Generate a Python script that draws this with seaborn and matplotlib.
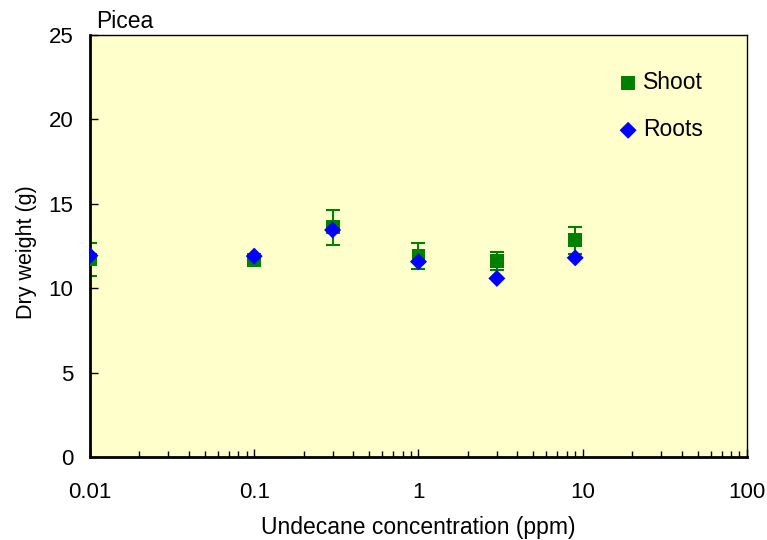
import matplotlib
matplotlib.use("Agg")
import matplotlib.pyplot as plt
import seaborn as sns
import numpy as np
import pandas as pd
from matplotlib.ticker import LogLocator, FixedLocator, NullFormatter

# Data
conc = [0.01, 0.1, 0.3, 1, 3, 9]
shoot = [11.7, 11.65, 13.6, 11.9, 11.6, 12.85]
shoot_err = [1.0, 0.15, 1.05, 0.75, 0.55, 0.8]
roots = [11.93, 11.9, 13.45, 11.57, 10.58, 11.8]

sns.set_theme(style="white")
plt.rcParams['font.family'] = ['Liberation Sans', 'DejaVu Sans']
plt.rcParams['text.color'] = 'black'
plt.rcParams['axes.labelcolor'] = 'black'

fig = plt.figure(figsize=(7.67, 5.40), dpi=100)
ax = fig.add_axes([0.1173, 0.1537, 0.8566, 0.7815])
ax.set_facecolor('#FFFFCC')

df = pd.DataFrame({'conc': conc * 2,
                   'weight': shoot + roots,
                   'part': ['Shoot'] * len(conc) + ['Roots'] * len(conc)})

ax.errorbar(conc, shoot, yerr=shoot_err, fmt='none', ecolor='#008000',
            elinewidth=1.5, capsize=5, capthick=1.5, zorder=2)
sns.scatterplot(data=df[df.part == 'Shoot'], x='conc', y='weight', ax=ax,
                marker='s', color='#008000', s=100, edgecolor='none',
                label='Shoot', zorder=3)
sns.scatterplot(data=df[df.part == 'Roots'], x='conc', y='weight', ax=ax,
                marker='D', color='#0000FF', s=75, edgecolor='none',
                label='Roots', zorder=4)

ax.set_xscale('log')
ax.set_xlim(0.01, 100)
ax.set_ylim(0, 25)
ax.set_yticks([0, 5, 10, 15, 20, 25])
ax.xaxis.set_major_locator(FixedLocator([0.01, 0.1, 1, 10, 100]))
ax.set_xticklabels(['0.01', '0.1', '1', '10', '100'])
ax.xaxis.set_minor_locator(LogLocator(base=10, subs=np.arange(2, 10)))
ax.xaxis.set_minor_formatter(NullFormatter())

ax.tick_params(axis='both', which='both', direction='in', labelsize=16,
               colors='black', bottom=True, left=True, top=False, right=False)
ax.tick_params(axis='both', which='major', length=6, width=1)
ax.tick_params(axis='x', which='minor', length=4, width=1)
ax.tick_params(axis='x', which='major', pad=18)
ax.tick_params(axis='y', which='major', pad=12)

for side in ['left', 'bottom']:
    ax.spines[side].set_linewidth(2)
    ax.spines[side].set_color('black')
for side in ['top', 'right']:
    ax.spines[side].set_linewidth(1)
    ax.spines[side].set_color('black')
    ax.spines[side].set_visible(True)

ax.set_xlabel('Undecane concentration (ppm)', fontsize=16.5, labelpad=9)
ax.set_ylabel('Dry weight (g)', fontsize=15.5, labelpad=10)
ax.yaxis.set_label_coords(-0.081, 0.486)
ax.text(0.01, 1.005, 'Picea', transform=ax.transAxes, fontsize=16.5,
        ha='left', va='bottom', color='black')

leg = ax.legend(loc='upper left', bbox_to_anchor=(0.772, 0.963), frameon=False,
                fontsize=16.5, labelspacing=1.05, handletextpad=0.2,
                handlelength=0.9)
for t in leg.get_texts():
    t.set_color('black')

fig.savefig('out.png', dpi=100)
